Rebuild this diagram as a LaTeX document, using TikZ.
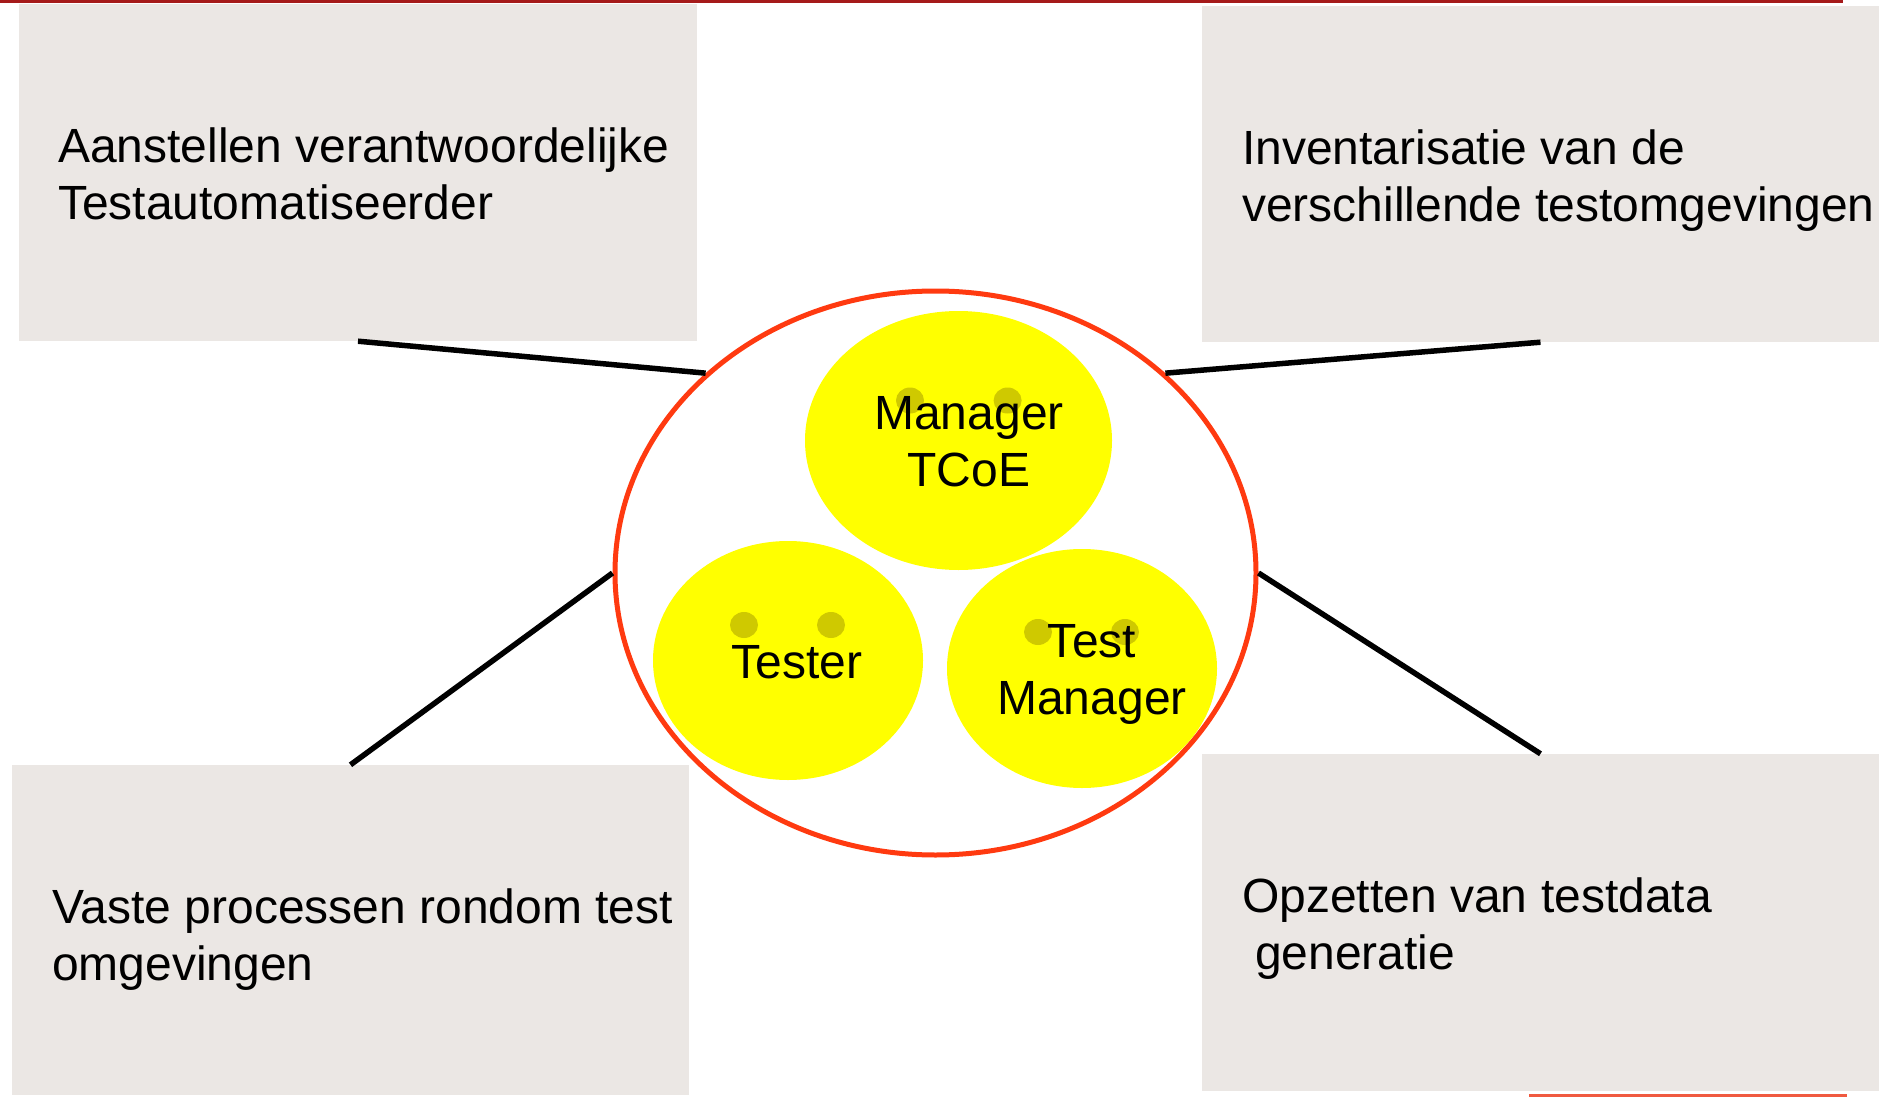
\documentclass[tikz,border=0pt]{standalone}
\usepackage{fontspec}
\setmainfont{Liberation Sans}
\usetikzlibrary{shapes.geometric}
\definecolor{boxgray}{HTML}{EBE7E4}
\definecolor{ringred}{HTML}{FF3A10}
\definecolor{topred}{HTML}{A51A1A}
\definecolor{botred}{HTML}{F05A40}
\definecolor{faceyellow}{HTML}{FFFF00}
\definecolor{dotolive}{HTML}{CFC900}
\begin{document}
\begin{tikzpicture}[x=1pt,y=-1pt,
  infobox/.style={rectangle,fill=boxgray,inner sep=0pt},
  infotext/.style={anchor=base west,align=left,inner sep=0pt,font=\fontsize{48}{57}\selectfont},
  ring/.style={ellipse,draw=ringred,line width=5pt,fill=white,inner sep=0pt},
  face/.style={ellipse,fill=faceyellow,inner sep=0pt},
  eye/.style={ellipse,fill=dotolive,inner sep=0pt,minimum width=28pt,minimum height=26pt},
  facetext/.style={anchor=base,align=center,inner sep=0pt,font=\fontsize{48}{57}\selectfont},
  link/.style={draw=black,line width=5.5pt}]
\useasboundingbox (0,0) rectangle (1883,1097);
% decorative edge lines
\draw[topred,line width=3pt] (0,1.5) -- (1843,1.5);
\draw[botred,line width=3pt] (1529,1095.5) -- (1847,1095.5);
% boxes
\node[infobox,minimum width=678pt,minimum height=337pt] (tl) at (358,172.5) {};
\node[infobox,minimum width=677pt,minimum height=336pt] (tr) at (1540.5,174) {};
\node[infobox,minimum width=677pt,minimum height=330pt] (bl) at (350.5,930) {};
\node[infobox,minimum width=677pt,minimum height=337pt] (br) at (1540.5,922.5) {};
\node[infotext] (tltext) at (58,219) {Aanstellen verantwoordelijke\\Testautomatiseerder};
\node[infotext] (trtext) at (1242,221) {Inventarisatie van de\\verschillende testomgevingen};
\node[infotext] (bltext) at (52,980) {Vaste processen rondom test\\omgevingen};
\node[infotext] (brtext) at (1242,969) {Opzetten van testdata\\\hspace*{13pt}generatie};
% central ring
\node[ring,minimum width=641pt,minimum height=564pt] (team) at (935.5,573) {};
% faces
\node[face,minimum width=307pt,minimum height=259pt] (mgr) at (958.5,440.5) {};
\node[face,minimum width=270pt,minimum height=239pt] (tester) at (788,660.5) {};
\node[face,minimum width=270pt,minimum height=239pt] (tm) at (1082,668.5) {};
\node[eye] (mgrl) at (910,400.5) {};
\node[eye] (mgrr) at (1007.6,400.5) {};
\node[eye] (testerl) at (744,625) {};
\node[eye] (testerr) at (831,625) {};
\node[eye] (tml) at (1038,632) {};
\node[eye] (tmr) at (1125,632) {};
\node[facetext] (mgrtext) at (969,486) {Manager\\TCoE};
\node[facetext] (testertext) at (797,678) {Tester};
\node[facetext] (tmtext) at (1092,714) {Test\\Manager};
% connectors
\draw[link] (tl.south) -- (team.139);
\draw[link] (tr.south) -- (team.41);
\draw[link] (bl.north) -- (team.west);
\draw[link] (br.north) -- (team.east);
\end{tikzpicture}
\end{document}
